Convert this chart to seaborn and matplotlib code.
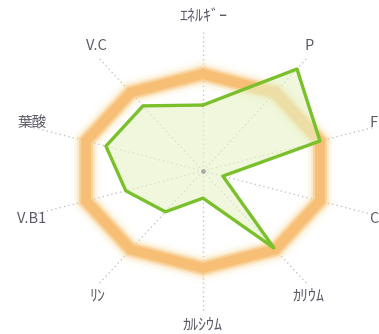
import numpy as np
import pandas as pd
import matplotlib
matplotlib.use("Agg")
import matplotlib.pyplot as plt
import seaborn as sns

# ---- data ----
categories = ["ｴﾈﾙｷﾞｰ", "P", "F", "C", "ｶﾘｳﾑ", "ｶﾙｼｳﾑ", "ﾘﾝ", "V.B1", "葉酸", "V.C"]
values = [0.68, 1.30, 1.00, 0.17, 0.98, 0.28, 0.52, 0.66, 0.83, 0.83]
reference = [1.0] * 10

# ---- style / layout ----
label_sizes = [11.5, 10.5, 10.5, 10.5, 11.5, 11.5, 11.5, 10.5, 10.5, 10.5]

sns.set_theme(style="white")
plt.rcParams["font.family"] = ["Noto Sans CJK JP", "DejaVu Sans"]

W, H = 379, 334
fig = plt.figure(figsize=(W / 100, H / 100), dpi=100)
ax = fig.add_axes([0, 0, 1, 1])
cx, cy = 203, 171
sx, sy = 123, 97
ax.set_xlim(-cx / sx, (W - cx) / sx)
ax.set_ylim(-(H - cy) / sy, cy / sy)

n = len(categories)
theta = np.arange(n) * 2 * np.pi / n


def to_xy(r, th):
    r = np.asarray(r, dtype=float)
    return r * np.sin(th), r * np.cos(th)


# spokes
for th in theta:
    x, y = to_xy([0, 1.45], th)
    ax.plot(x, y, color="#c4c4cc", lw=1.0, ls=(0, (1, 2.2)), zorder=1)

# glowing reference ring
rx, ry = to_xy(reference + reference[:1], np.append(theta, theta[0]))
for lw, a, c in [(22, 0.08, "#fee9c0"), (17, 0.18, "#fddca6"),
                 (13, 0.35, "#fad08f"), (10, 0.6, "#f8c47c"),
                 (7, 0.8, "#f6bb6c")]:
    ax.plot(rx, ry, color=c, lw=lw, alpha=a, solid_joinstyle="miter", zorder=2)

# data polygon
px, py = to_xy(values + values[:1], np.append(theta, theta[0]))
df = pd.DataFrame({"x": px, "y": py})
ax.fill(px, py, color="#e6f3c6", alpha=0.6, zorder=3, lw=0)
sns.lineplot(data=df, x="x", y="y", sort=False, ax=ax, color="#79c02a",
             lw=2.4, zorder=4, estimator=None)
ax.set_xlabel("")
ax.set_ylabel("")
ax.axis("off")

# center dot
ax.scatter([0], [0], s=6, color="#aaaaaa", zorder=5)

# labels on an ellipse
lrx, lry = 180 / sx, 154 / sy
xmax = (W - cx - 1) / sx
for lab, th, fs in zip(categories, theta, label_sizes):
    lx, ly = lrx * np.sin(th), lry * np.cos(th)
    ha = "center"
    if lx + 0.05 > xmax:
        lx, ha = xmax, "right"
    ax.text(lx, ly, lab, ha=ha, va="center", fontsize=fs,
            color="#5b5b68", clip_on=False, zorder=6)

fig.savefig("out.png", dpi=100)
